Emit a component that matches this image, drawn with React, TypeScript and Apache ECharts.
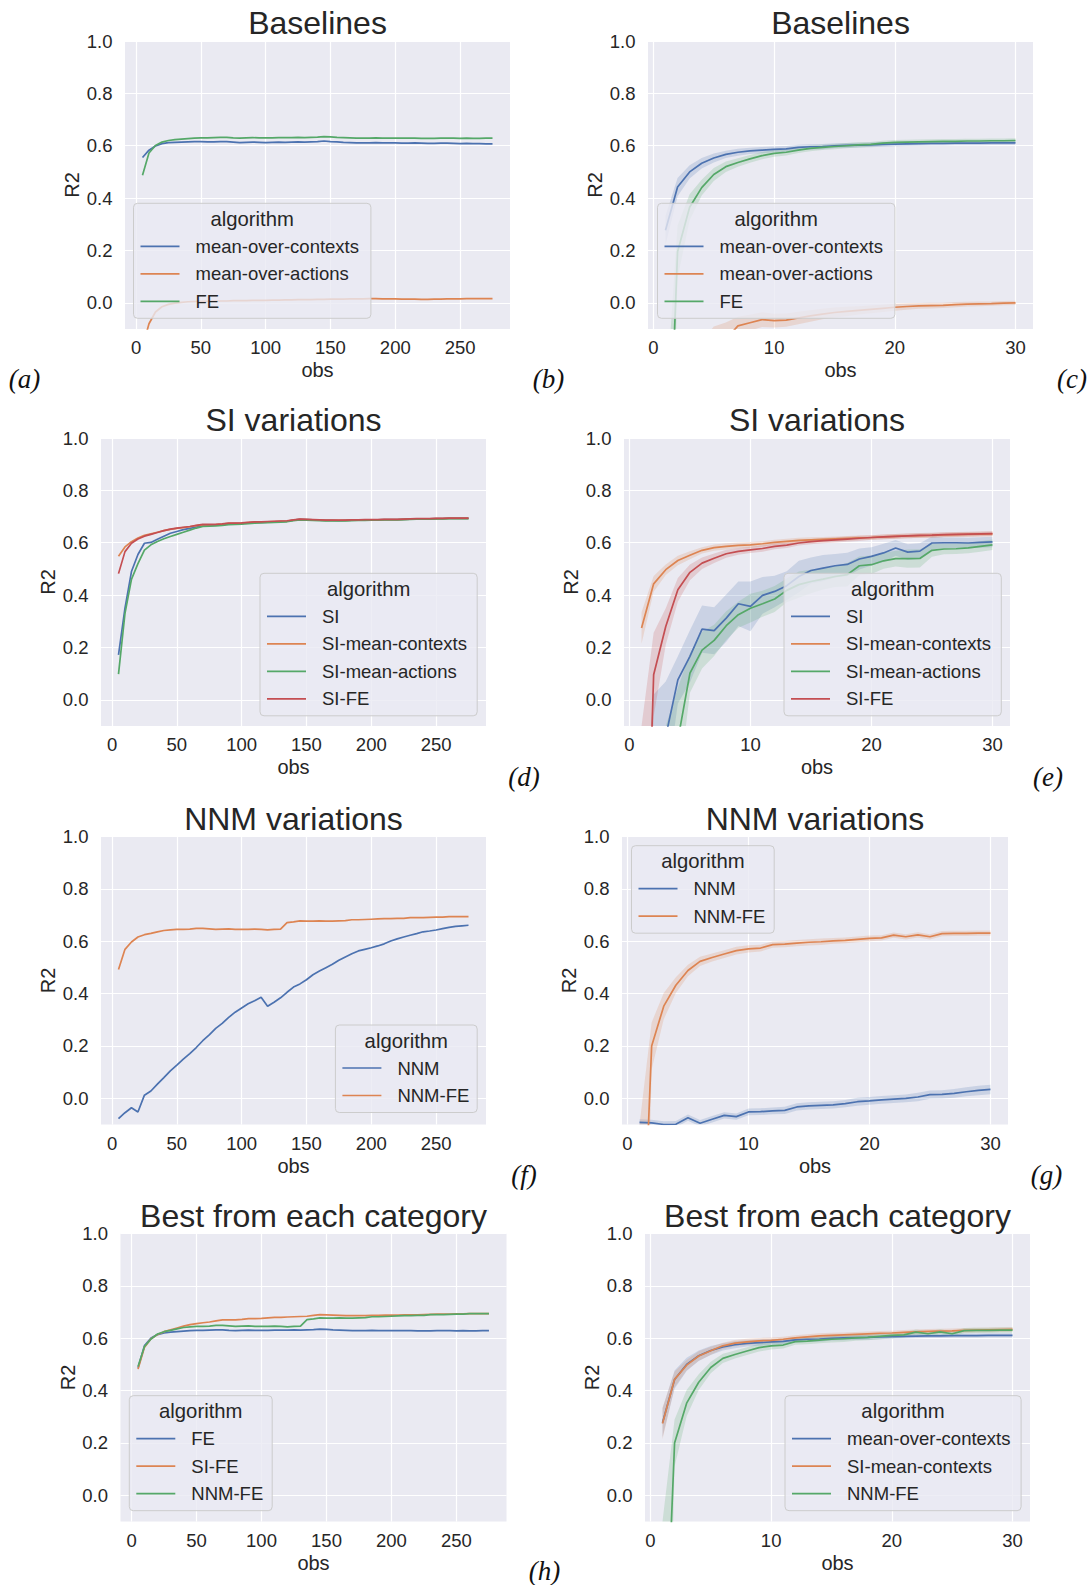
import React, { useEffect, useRef } from 'react';
import * as echarts from 'echarts';

// ---------------- data ----------------
const OBS_LONG = [
  5, 10, 15, 20, 25, 30, 35, 40, 45, 50,
  55, 60, 65, 70, 75, 80, 85, 90, 95, 100,
  105, 110, 115, 120, 125, 130, 135, 140, 145, 150,
  155, 160, 165, 170, 175, 180, 185, 190, 195, 200,
  205, 210, 215, 220, 225, 230, 235, 240, 245, 250,
  255, 260, 265, 270, 275,
];
const OBS_SHORT = [
  1, 2, 3, 4, 5, 6, 7, 8, 9, 10,
  11, 12, 13, 14, 15, 16, 17, 18, 19, 20,
  21, 22, 23, 24, 25, 26, 27, 28, 29, 30,
];
const X_TICKS_LONG = [0, 50, 100, 150, 200, 250];
const X_TICKS_SHORT = [0, 10, 20, 30];
const Y_TICKS = [0, 0.2, 0.4, 0.6, 0.8, 1.0];

// (a) Baselines, all observations
const A_MEAN_CONTEXTS = [
  0.555, 0.583, 0.599, 0.608, 0.612, 0.613, 0.614, 0.615, 0.616, 0.616,
  0.615, 0.615, 0.616, 0.616, 0.614, 0.612, 0.613, 0.614, 0.613, 0.612,
  0.613, 0.614, 0.613, 0.614, 0.615, 0.614, 0.615, 0.616, 0.618, 0.616,
  0.615, 0.613, 0.612, 0.611, 0.611, 0.611, 0.612, 0.611, 0.611, 0.611,
  0.610, 0.610, 0.611, 0.610, 0.609, 0.609, 0.610, 0.610, 0.609, 0.608,
  0.609, 0.608, 0.608, 0.607, 0.607,
];
const A_MEAN_ACTIONS = [
  -0.17, -0.08, -0.035, -0.015, -0.006, -0.001, 0.002, 0.004, 0.005, 0.006,
  0.006, 0.007, 0.007, 0.007, 0.008, 0.008, 0.008, 0.009, 0.009, 0.009,
  0.010, 0.010, 0.011, 0.011, 0.012, 0.012, 0.012, 0.013, 0.013, 0.014,
  0.014, 0.014, 0.015, 0.015, 0.015, 0.016, 0.016, 0.015, 0.015, 0.015,
  0.014, 0.014, 0.014, 0.013, 0.013, 0.014, 0.014, 0.015, 0.015, 0.015,
  0.016, 0.016, 0.016, 0.016, 0.016,
];
const A_FE = [
  0.487, 0.572, 0.601, 0.614, 0.620, 0.623, 0.625, 0.627, 0.629, 0.630,
  0.630, 0.631, 0.632, 0.632, 0.630, 0.629, 0.630, 0.631, 0.630, 0.630,
  0.630, 0.631, 0.631, 0.631, 0.632, 0.631, 0.632, 0.633, 0.635, 0.634,
  0.632, 0.631, 0.630, 0.629, 0.629, 0.629, 0.630, 0.629, 0.629, 0.629,
  0.629, 0.629, 0.629, 0.628, 0.628, 0.628, 0.629, 0.629, 0.629, 0.628,
  0.629, 0.628, 0.628, 0.629, 0.629,
];

// (b) Baselines, first 30 observations (mean and CI half-width)
const B_MEAN_CONTEXTS = [
  0.277, 0.442, 0.500, 0.533, 0.553, 0.567, 0.575, 0.580, 0.583, 0.586,
  0.588, 0.594, 0.596, 0.597, 0.600, 0.601, 0.602, 0.603, 0.605, 0.606,
  0.607, 0.608, 0.609, 0.609, 0.610, 0.610, 0.610, 0.611, 0.611, 0.611,
];
const B_MEAN_CONTEXTS_CI = [
  0.055, 0.035, 0.025, 0.02, 0.017, 0.014, 0.013, 0.012, 0.012, 0.011,
  0.011, 0.010, 0.010, 0.010, 0.009, 0.009, 0.009, 0.009, 0.009, 0.008,
  0.008, 0.008, 0.008, 0.008, 0.008, 0.008, 0.008, 0.008, 0.008, 0.008,
];
const B_MEAN_ACTIONS = [
  -1.2, -0.7, -0.45, -0.3, -0.2, -0.14, -0.088, -0.076, -0.064, -0.068,
  -0.066, -0.058, -0.05, -0.043, -0.037, -0.033, -0.029, -0.025, -0.021, -0.017,
  -0.014, -0.012, -0.011, -0.01, -0.007, -0.005, -0.004, -0.003, -0.001, 0.0,
];
const B_MEAN_ACTIONS_CI = [
  0.6, 0.4, 0.25, 0.15, 0.11, 0.065, 0.035, 0.03, 0.028, 0.026,
  0.025, 0.024, 0.022, 0.02, 0.019, 0.018, 0.016, 0.015, 0.014, 0.013,
  0.012, 0.011, 0.011, 0.01, 0.01, 0.009, 0.009, 0.008, 0.008, 0.008,
];
const B_FE = [
  -1.0, 0.195, 0.365, 0.44, 0.49, 0.52, 0.536, 0.55, 0.562, 0.571,
  0.575, 0.583, 0.59, 0.594, 0.597, 0.600, 0.603, 0.605, 0.610, 0.613,
  0.614, 0.615, 0.616, 0.617, 0.617, 0.618, 0.618, 0.619, 0.619, 0.620,
];
const B_FE_CI = [
  0.6, 0.1, 0.05, 0.03, 0.025, 0.02, 0.016, 0.015, 0.014, 0.013,
  0.012, 0.011, 0.011, 0.01, 0.01, 0.01, 0.01, 0.009, 0.009, 0.009,
  0.009, 0.009, 0.009, 0.009, 0.009, 0.009, 0.009, 0.009, 0.009, 0.009,
];

// (d) SI variations, all observations
const D_SI = [
  0.172, 0.35, 0.49, 0.555, 0.598, 0.601, 0.613, 0.625, 0.636, 0.643,
  0.65, 0.655, 0.66, 0.665, 0.666, 0.667, 0.669, 0.672, 0.673, 0.674,
  0.676, 0.678, 0.678, 0.679, 0.680, 0.681, 0.682, 0.686, 0.689, 0.688,
  0.687, 0.686, 0.685, 0.685, 0.684, 0.685, 0.686, 0.686, 0.687, 0.687,
  0.687, 0.688, 0.688, 0.688, 0.689, 0.690, 0.691, 0.691, 0.691, 0.692,
  0.692, 0.693, 0.693, 0.693, 0.693,
];
const D_SI_MEAN_CONTEXTS = [
  0.548, 0.584, 0.604, 0.618, 0.628, 0.634, 0.640, 0.646, 0.651, 0.655,
  0.658, 0.661, 0.665, 0.668, 0.668, 0.669, 0.671, 0.674, 0.674, 0.675,
  0.677, 0.679, 0.679, 0.680, 0.681, 0.682, 0.683, 0.686, 0.689, 0.688,
  0.687, 0.686, 0.685, 0.685, 0.685, 0.685, 0.686, 0.686, 0.687, 0.687,
  0.687, 0.688, 0.688, 0.688, 0.689, 0.690, 0.691, 0.691, 0.691, 0.692,
  0.692, 0.693, 0.693, 0.693, 0.693,
];
const D_SI_MEAN_ACTIONS = [
  0.098, 0.33, 0.46, 0.52, 0.572, 0.592, 0.605, 0.615, 0.624, 0.632,
  0.64, 0.648, 0.656, 0.662, 0.663, 0.664, 0.666, 0.669, 0.670, 0.671,
  0.673, 0.675, 0.676, 0.677, 0.678, 0.679, 0.680, 0.684, 0.687, 0.686,
  0.685, 0.684, 0.683, 0.683, 0.683, 0.683, 0.684, 0.685, 0.685, 0.686,
  0.686, 0.687, 0.687, 0.687, 0.688, 0.689, 0.690, 0.690, 0.690, 0.691,
  0.691, 0.692, 0.692, 0.692, 0.692,
];
const D_SI_FE = [
  0.482, 0.566, 0.598, 0.614, 0.625, 0.632, 0.639, 0.646, 0.652, 0.656,
  0.659, 0.662, 0.666, 0.670, 0.670, 0.670, 0.672, 0.675, 0.675, 0.676,
  0.678, 0.680, 0.680, 0.681, 0.682, 0.683, 0.684, 0.687, 0.690, 0.689,
  0.688, 0.687, 0.686, 0.686, 0.686, 0.686, 0.687, 0.687, 0.688, 0.688,
  0.688, 0.689, 0.689, 0.689, 0.690, 0.691, 0.692, 0.692, 0.692, 0.693,
  0.693, 0.694, 0.694, 0.694, 0.694,
];

// (e) SI variations, first 30 observations
const E_SI = [
  -1.5, -0.6, -0.14, 0.076, 0.166, 0.27, 0.264, 0.312, 0.367, 0.357,
  0.399, 0.414, 0.436, 0.471, 0.494, 0.503, 0.512, 0.517, 0.538, 0.548,
  0.561, 0.58, 0.564, 0.568, 0.599, 0.600, 0.600, 0.599, 0.601, 0.603,
];
const E_SI_CI = [
  1.0, 0.62, 0.21, 0.09, 0.1, 0.09, 0.09, 0.09, 0.085, 0.095,
  0.07, 0.06, 0.055, 0.06, 0.05, 0.05, 0.045, 0.045, 0.04, 0.035,
  0.035, 0.03, 0.03, 0.03, 0.025, 0.02, 0.02, 0.02, 0.02, 0.02,
];
const E_SI_MEAN_CONTEXTS = [
  0.274, 0.443, 0.497, 0.532, 0.552, 0.571, 0.581, 0.586, 0.59, 0.592,
  0.596, 0.601, 0.605, 0.609, 0.611, 0.613, 0.615, 0.617, 0.619, 0.62,
  0.622, 0.624, 0.626, 0.627, 0.628, 0.63, 0.631, 0.632, 0.633, 0.634,
];
const E_SI_MEAN_CONTEXTS_CI = [
  0.06, 0.03, 0.02, 0.018, 0.015, 0.012, 0.012, 0.012, 0.011, 0.011,
  0.01, 0.01, 0.01, 0.01, 0.01, 0.009, 0.009, 0.009, 0.009, 0.009,
  0.009, 0.009, 0.009, 0.009, 0.009, 0.009, 0.009, 0.009, 0.009, 0.009,
];
const E_SI_MEAN_ACTIONS = [
  -1.8, -1.0, -0.5, -0.154, 0.102, 0.19, 0.227, 0.283, 0.325, 0.35,
  0.367, 0.385, 0.418, 0.44, 0.452, 0.461, 0.471, 0.478, 0.512, 0.516,
  0.531, 0.539, 0.539, 0.54, 0.571, 0.576, 0.577, 0.58, 0.586, 0.592,
];
const E_SI_MEAN_ACTIONS_CI = [
  1.0, 0.6, 0.4, 0.2, 0.075, 0.07, 0.06, 0.055, 0.05, 0.055,
  0.05, 0.05, 0.045, 0.05, 0.045, 0.04, 0.04, 0.045, 0.035, 0.035,
  0.03, 0.03, 0.035, 0.035, 0.025, 0.02, 0.02, 0.02, 0.02, 0.02,
];
const E_SI_FE = [
  -1.4, 0.096, 0.28, 0.42, 0.487, 0.522, 0.541, 0.558, 0.567, 0.573,
  0.578, 0.586, 0.591, 0.599, 0.604, 0.608, 0.611, 0.614, 0.617, 0.62,
  0.622, 0.624, 0.626, 0.628, 0.629, 0.631, 0.632, 0.633, 0.634, 0.635,
];
const E_SI_FE_CI = [
  1.3, 0.16, 0.07, 0.045, 0.03, 0.022, 0.018, 0.015, 0.013, 0.012,
  0.012, 0.011, 0.011, 0.01, 0.01, 0.01, 0.01, 0.01, 0.01, 0.009,
  0.009, 0.009, 0.009, 0.009, 0.009, 0.009, 0.009, 0.009, 0.009, 0.009,
];

// (f) NNM variations, all observations
const F_NNM = [
  -0.078, -0.055, -0.036, -0.052, 0.012, 0.028, 0.054, 0.079, 0.105, 0.127,
  0.15, 0.171, 0.194, 0.22, 0.242, 0.267, 0.286, 0.309, 0.329, 0.345,
  0.361, 0.373, 0.386, 0.352, 0.367, 0.384, 0.405, 0.425, 0.437, 0.453,
  0.472, 0.486, 0.499, 0.512, 0.527, 0.54, 0.552, 0.563, 0.569, 0.575,
  0.582, 0.59, 0.601, 0.609, 0.616, 0.623, 0.629, 0.636, 0.639, 0.643,
  0.648, 0.653, 0.657, 0.659, 0.661,
];
const F_NNM_FE = [
  0.492, 0.569, 0.597, 0.616, 0.625, 0.630, 0.636, 0.641, 0.643, 0.645,
  0.645, 0.646, 0.649, 0.649, 0.647, 0.645, 0.646, 0.647, 0.645, 0.645,
  0.645, 0.646, 0.645, 0.643, 0.645, 0.646, 0.671, 0.674, 0.678, 0.677,
  0.677, 0.678, 0.677, 0.677, 0.678, 0.679, 0.682, 0.682, 0.683, 0.684,
  0.685, 0.686, 0.686, 0.687, 0.687, 0.690, 0.690, 0.690, 0.691, 0.692,
  0.692, 0.694, 0.694, 0.694, 0.694,
];

// (g) NNM variations, first 30 observations
const G_NNM = [
  -0.092, -0.094, -0.1, -0.099, -0.074, -0.095, -0.08, -0.065, -0.07, -0.052,
  -0.051, -0.048, -0.046, -0.033, -0.029, -0.027, -0.025, -0.02, -0.013, -0.01,
  -0.006, -0.003, 0.0, 0.005, 0.014, 0.015, 0.019, 0.025, 0.03, 0.034,
];
const G_NNM_CI = [
  0.012, 0.012, 0.012, 0.012, 0.012, 0.012, 0.012, 0.012, 0.012, 0.013,
  0.013, 0.013, 0.014, 0.014, 0.014, 0.014, 0.014, 0.014, 0.015, 0.015,
  0.015, 0.015, 0.015, 0.016, 0.016, 0.016, 0.017, 0.017, 0.018, 0.018,
];
const G_NNM_FE = [
  -0.95, 0.2, 0.352, 0.432, 0.488, 0.523, 0.538, 0.551, 0.564, 0.571,
  0.574, 0.587, 0.589, 0.593, 0.596, 0.598, 0.601, 0.603, 0.607, 0.611,
  0.613, 0.623, 0.617, 0.624, 0.617, 0.629, 0.630, 0.630, 0.631, 0.631,
];
const G_NNM_FE_CI = [
  0.85, 0.09, 0.05, 0.03, 0.022, 0.018, 0.015, 0.015, 0.015, 0.014,
  0.013, 0.012, 0.012, 0.012, 0.012, 0.012, 0.011, 0.011, 0.011, 0.011,
  0.01, 0.01, 0.01, 0.01, 0.01, 0.01, 0.01, 0.01, 0.01, 0.01,
];

const PANEL_LABELS = ['(a)', '(b)', '(c)', '(d)', '(e)', '(f)', '(g)', '(h)'];

// ---------------- styling ----------------
const FONT = "'Liberation Sans', Arial, Helvetica, sans-serif";
const SERIF = "'Liberation Serif', 'Times New Roman', serif";
const TEXT = '#262626';
const BG = '#EAEAF2';
const C = { blue: '#4C72B0', orange: '#DD8452', green: '#55A868', red: '#C44E52' };
const PLOT_H = 288;
const LINE_W = 1.7;

type LineDef = { name: string; color: string; y: number[]; ci?: number[] };
type PanelDef = {
  title: string;
  obs: number[];
  xMin: number;
  xMax: number;
  xTicks: number[];
  left: number;
  top: number;
  width: number;
  lines: LineDef[];
  legend: { x: number; y: number; w: number };
};

const LONG = { obs: OBS_LONG, xMin: -8.5, xMax: 288.5, xTicks: X_TICKS_LONG };
const SHORT = { obs: OBS_SHORT, xMin: -0.45, xMax: 31.45, xTicks: X_TICKS_SHORT };

const PANELS: PanelDef[] = [
  {
    title: 'Baselines', ...LONG, left: 125, top: 41, width: 385,
    lines: [
      { name: 'mean-over-contexts', color: C.blue, y: A_MEAN_CONTEXTS },
      { name: 'mean-over-actions', color: C.orange, y: A_MEAN_ACTIONS },
      { name: 'FE', color: C.green, y: A_FE },
    ],
    legend: { x: 133.5, y: 203.3, w: 237.4 },
  },
  {
    title: 'Baselines', ...SHORT, left: 648, top: 41, width: 385,
    lines: [
      { name: 'mean-over-contexts', color: C.blue, y: B_MEAN_CONTEXTS, ci: B_MEAN_CONTEXTS_CI },
      { name: 'mean-over-actions', color: C.orange, y: B_MEAN_ACTIONS, ci: B_MEAN_ACTIONS_CI },
      { name: 'FE', color: C.green, y: B_FE, ci: B_FE_CI },
    ],
    legend: { x: 657.5, y: 203.3, w: 237.4 },
  },
  {
    title: 'SI variations', ...LONG, left: 101, top: 438, width: 385,
    lines: [
      { name: 'SI', color: C.blue, y: D_SI },
      { name: 'SI-mean-contexts', color: C.orange, y: D_SI_MEAN_CONTEXTS },
      { name: 'SI-mean-actions', color: C.green, y: D_SI_MEAN_ACTIONS },
      { name: 'SI-FE', color: C.red, y: D_SI_FE },
    ],
    legend: { x: 260, y: 573.3, w: 217.2 },
  },
  {
    title: 'SI variations', ...SHORT, left: 624, top: 438, width: 386,
    lines: [
      { name: 'SI', color: C.blue, y: E_SI, ci: E_SI_CI },
      { name: 'SI-mean-contexts', color: C.orange, y: E_SI_MEAN_CONTEXTS, ci: E_SI_MEAN_CONTEXTS_CI },
      { name: 'SI-mean-actions', color: C.green, y: E_SI_MEAN_ACTIONS, ci: E_SI_MEAN_ACTIONS_CI },
      { name: 'SI-FE', color: C.red, y: E_SI_FE, ci: E_SI_FE_CI },
    ],
    legend: { x: 784, y: 573.3, w: 217.3 },
  },
  {
    title: 'NNM variations', ...LONG, left: 101, top: 836.5, width: 385,
    lines: [
      { name: 'NNM', color: C.blue, y: F_NNM },
      { name: 'NNM-FE', color: C.orange, y: F_NNM_FE },
    ],
    legend: { x: 335.4, y: 1025, w: 141.8 },
  },
  {
    title: 'NNM variations', ...SHORT, left: 622, top: 836.5, width: 386,
    lines: [
      { name: 'NNM', color: C.blue, y: G_NNM, ci: G_NNM_CI },
      { name: 'NNM-FE', color: C.orange, y: G_NNM_FE, ci: G_NNM_FE_CI },
    ],
    legend: { x: 631.5, y: 845.7, w: 142.7 },
  },
  {
    title: 'Best from each category', ...LONG, left: 120.5, top: 1233.5, width: 386,
    lines: [
      { name: 'FE', color: C.blue, y: A_FE },
      { name: 'SI-FE', color: C.orange, y: D_SI_FE },
      { name: 'NNM-FE', color: C.green, y: F_NNM_FE },
    ],
    legend: { x: 129.3, y: 1395.7, w: 142.9 },
  },
  {
    title: 'Best from each category', ...SHORT, left: 645, top: 1233.5, width: 385,
    lines: [
      { name: 'mean-over-contexts', color: C.blue, y: B_MEAN_CONTEXTS, ci: B_MEAN_CONTEXTS_CI },
      { name: 'SI-mean-contexts', color: C.orange, y: E_SI_MEAN_CONTEXTS, ci: E_SI_MEAN_CONTEXTS_CI },
      { name: 'NNM-FE', color: C.green, y: G_NNM_FE, ci: G_NNM_FE_CI },
    ],
    legend: { x: 785, y: 1395.7, w: 236.1 },
  },
];

const LABEL_POS = [
  { x: 24.5, y: 379 }, { x: 548.5, y: 379 }, { x: 1072, y: 379 },
  { x: 524, y: 777 }, { x: 1048, y: 777 },
  { x: 524, y: 1175 }, { x: 1046.5, y: 1175 },
  { x: 544.5, y: 1571 },
];

function buildOption() {
  const grid: any[] = [];
  const xAxis: any[] = [];
  const yAxis: any[] = [];
  const series: any[] = [];
  const graphics: any[] = [];

  PANELS.forEach((p, i) => {
    grid.push({
      left: p.left, top: p.top, width: p.width, height: PLOT_H,
      show: true, backgroundColor: BG, borderWidth: 0,
      containLabel: false, outerBoundsMode: 'none',
    });
    xAxis.push({
      gridIndex: i, type: 'value', min: p.xMin, max: p.xMax,
      axisLine: { show: false },
      axisTick: { show: false, customValues: p.xTicks },
      axisLabel: {
        customValues: p.xTicks, formatter: (v: number) => String(Math.round(v)),
        fontSize: 18.5, color: TEXT, fontFamily: FONT, margin: 9,
      },
      splitLine: { show: true, lineStyle: { color: '#ffffff', width: 1.2 } },
      name: 'obs', nameLocation: 'middle', nameGap: 31,
      nameTextStyle: { fontSize: 20, color: TEXT, fontFamily: FONT },
    });
    yAxis.push({
      gridIndex: i, type: 'value', min: -0.1, max: 1.0,
      axisLine: { show: false },
      axisTick: { show: false, customValues: Y_TICKS },
      axisLabel: {
        customValues: Y_TICKS, formatter: (v: number) => v.toFixed(1),
        fontSize: 18.5, color: TEXT, fontFamily: FONT, margin: 12.5,
      },
      splitLine: { show: true, lineStyle: { color: '#ffffff', width: 1.2 } },
      name: 'R2', nameLocation: 'middle', nameGap: 43,
      nameTextStyle: { fontSize: 20, color: TEXT, fontFamily: FONT },
    });

    // confidence bands first (custom polygon clipped to the plot area)
    p.lines.forEach((l) => {
      if (!l.ci) return;
      const obs = p.obs;
      const mean = l.y;
      const ci = l.ci;
      series.push({
        type: 'custom', xAxisIndex: i, yAxisIndex: i, silent: true, z: 2, clip: true,
        data: [[obs[0], mean[0]]],
        renderItem: (params: any, api: any) => {
          const upper = obs.map((x, k) => api.coord([x, mean[k] + ci[k]]));
          const lower = obs.map((x, k) => api.coord([x, mean[k] - ci[k]])).reverse();
          const cs = params.coordSys;
          return {
            type: 'polygon',
            shape: { points: upper.concat(lower) },
            style: { fill: l.color, opacity: 0.2 },
            clipPath: { type: 'rect', shape: { x: cs.x, y: cs.y, width: cs.width, height: cs.height } },
          };
        },
      });
    });
    p.lines.forEach((l) => {
      series.push({
        type: 'line', name: l.name, xAxisIndex: i, yAxisIndex: i,
        data: p.obs.map((x, k) => [x, l.y[k]]),
        symbol: 'none', showSymbol: false, silent: true, z: 3,
        lineStyle: { color: l.color, width: LINE_W },
        itemStyle: { color: l.color },
      });
    });

    // title
    graphics.push({
      type: 'text', x: p.left + p.width / 2, y: p.top - 17.7, z: 50,
      style: {
        text: p.title, fontSize: 32, fontFamily: FONT, fill: TEXT,
        align: 'center', verticalAlign: 'middle',
      },
    });

    // legend
    const lg = p.legend;
    const n = p.lines.length;
    const h = 60 + 27.5 * (n - 1);
    graphics.push({
      type: 'rect', z: 50,
      shape: { x: lg.x, y: lg.y, width: lg.w, height: h, r: 4 },
      style: { fill: 'rgba(234,234,242,0.8)', stroke: '#cccccc', lineWidth: 1 },
    });
    graphics.push({
      type: 'text', x: lg.x + lg.w / 2, y: lg.y + 15.5, z: 51,
      style: {
        text: 'algorithm', fontSize: 20.3, fontFamily: FONT, fill: TEXT,
        align: 'center', verticalAlign: 'middle',
      },
    });
    p.lines.forEach((l, j) => {
      const ry = lg.y + 43 + 27.5 * j;
      graphics.push({
        type: 'line', z: 51,
        shape: { x1: lg.x + 7, y1: ry, x2: lg.x + 46, y2: ry },
        style: { stroke: l.color, lineWidth: LINE_W },
      });
      graphics.push({
        type: 'text', x: lg.x + 62, y: ry, z: 51,
        style: {
          text: l.name, fontSize: 18.5, fontFamily: FONT, fill: TEXT,
          align: 'left', verticalAlign: 'middle',
        },
      });
    });
  });

  PANEL_LABELS.forEach((t, i) => {
    const pos = LABEL_POS[i];
    graphics.push({
      type: 'text', x: pos.x, y: pos.y, z: 50,
      style: {
        text: t, fontSize: 27, fontFamily: SERIF, fontStyle: 'italic', fill: '#111111',
        align: 'center', verticalAlign: 'middle',
      },
    });
  });

  return {
    animation: false,
    backgroundColor: '#ffffff',
    grid, xAxis, yAxis, series,
    graphic: { elements: graphics },
  };
}

export default function App() {
  const ref = useRef<HTMLDivElement>(null);
  useEffect(() => {
    document.body.style.margin = '0';
    const chart = echarts.init(ref.current as HTMLDivElement, null, { renderer: 'svg' });
    chart.setOption(buildOption() as any);
    return () => chart.dispose();
  }, []);
  return <div ref={ref} style={{ width: 1092, height: 1585 }} />;
}
